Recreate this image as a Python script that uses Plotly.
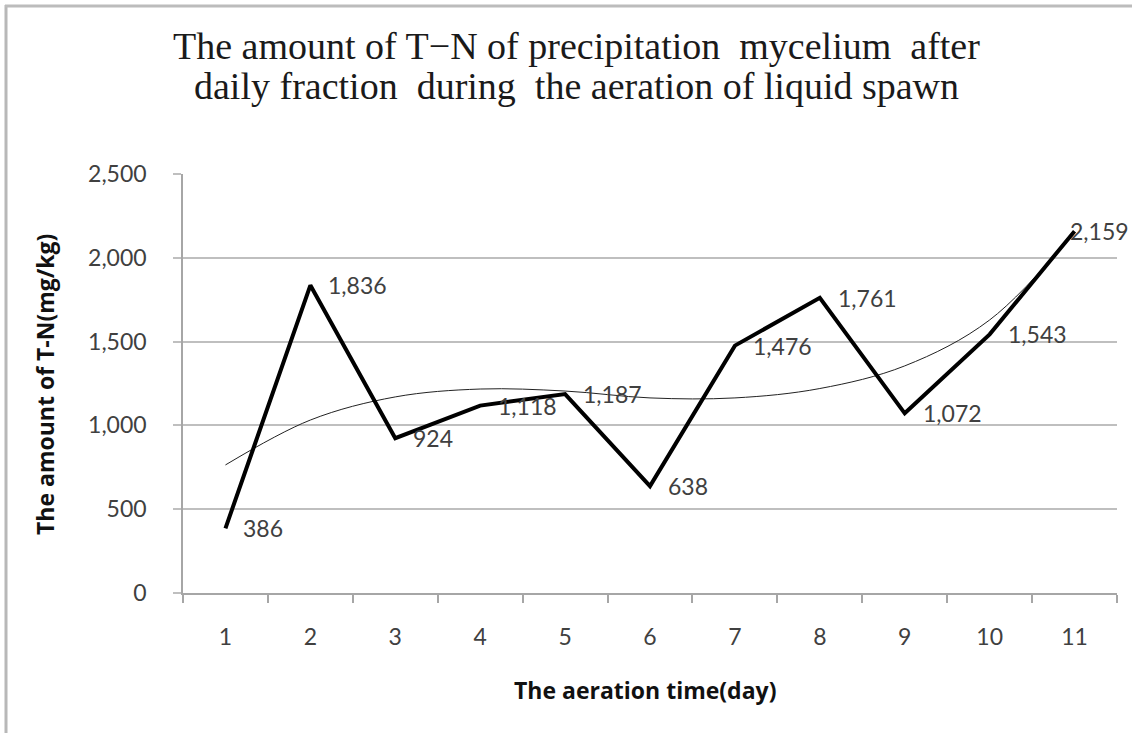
import plotly.graph_objects as go

days = ["1", "2", "3", "4", "5", "6", "7", "8", "9", "10", "11"]
tn_values = [386, 1836, 924, 1118, 1187, 638, 1476, 1761, 1072, 1543, 2159]
trend_values = [764, 1032, 1170, 1217, 1205, 1164, 1164, 1220, 1355, 1629, 2150]
value_labels = ["386", "1,836", "924", "1,118", "1,187", "638", "1,476", "1,761", "1,072", "1,543", "2,159"]
title_lines = ["The amount of T\u2212N of precipitation  mycelium  after",
               "daily fraction  during  the aeration of liquid spawn"]
x_title = "The aeration time(day)"
y_title = "The amount of T-N(mg/kg)"

W, H = 1132, 733
L, R, T, B = 183, 15, 174, 140
pw, ph = W - L - R, H - T - B

def px(x):
    return (x - L) / pw

def py(y):
    return (H - B - y) / ph

fig = go.Figure()
fig.add_trace(go.Scatter(x=days, y=trend_values, mode="lines",
                         line=dict(color="#222222", width=1, shape="spline", smoothing=1.0),
                         hoverinfo="skip", showlegend=False))
fig.add_trace(go.Scatter(x=days, y=tn_values, mode="lines",
                         line=dict(color="#000000", width=4),
                         showlegend=False))

tick_font = dict(family="Lato, Noto Sans, sans-serif", size=23, color="#404040")
title_axis_font = dict(family="Open Sans, Noto Sans, sans-serif", size=23, color="#111111")

annotations = []
n = len(tn_values)
for i, (v, lab) in enumerate(zip(tn_values, value_labels)):
    last = (i == n - 1)
    annotations.append(dict(x=i, y=v, xref="x", yref="y", text=lab, showarrow=False,
                            xanchor="left", yanchor="middle", xshift=-7 if last else 16,
                            font=tick_font))
for i, line in enumerate(title_lines):
    annotations.append(dict(x=px(576), y=py([46, 86][i]), xref="paper", yref="paper",
                            text=line, showarrow=False, xanchor="center", yanchor="middle",
                            font=dict(family="Liberation Serif, Times New Roman, serif",
                                      size=38, color="#1a1a1a")))
annotations.append(dict(x=px(645), y=py(690), xref="paper", yref="paper", text="<b>" + x_title + "</b>",
                        showarrow=False, xanchor="center", yanchor="middle",
                        font=title_axis_font))
annotations.append(dict(x=px(45), y=py(385), xref="paper", yref="paper", text="<b>" + y_title + "</b>",
                        showarrow=False, xanchor="center", yanchor="middle", textangle=-90,
                        font=title_axis_font))

shapes = [
    dict(type="line", xref="paper", yref="paper", x0=px(6), x1=px(6), y0=py(5), y1=py(733),
         line=dict(color="#b8b8b8", width=3)),
    dict(type="line", xref="paper", yref="paper", x0=px(5), x1=px(1132), y0=py(6), y1=py(6),
         line=dict(color="#bcbcbc", width=3)),
]

fig.update_layout(
    width=W, height=H,
    margin=dict(l=L, r=R, t=T, b=B),
    paper_bgcolor="white", plot_bgcolor="white",
    annotations=annotations, shapes=shapes,
)
fig.update_xaxes(type="category", range=[-0.5, len(days) - 0.5], showgrid=False, showline=True,
                 linecolor="#a6a6a6", linewidth=2,
                 ticks="outside", tickson="boundaries", ticklen=8, tickcolor="#a6a6a6", tickwidth=1.5,
                 tickfont=tick_font, ticklabelstandoff=22)
fig.update_yaxes(range=[0, 2500], dtick=500, tickformat=",", showgrid=True, gridcolor="#bfbfbf",
                 gridwidth=2, zeroline=False, showline=True, linecolor="#a6a6a6", linewidth=1.5,
                 ticks="outside", ticklen=8, tickcolor="#bfbfbf", tickwidth=2,
                 tickfont=tick_font, ticklabelstandoff=22)

fig.write_html("out.html")
